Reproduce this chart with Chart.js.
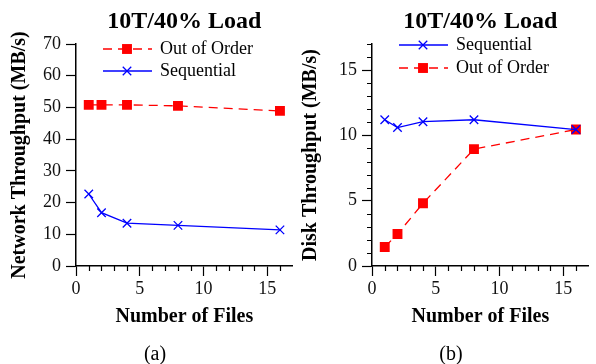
<!DOCTYPE html>
<html>
<head>
<meta charset="utf-8">
<script src="https://cdn.jsdelivr.net/npm/chart.js@4.4.1/dist/chart.umd.min.js"></script>
<style>
html, body { margin: 0; padding: 0; background: #fff; }
#wrap { position: relative; width: 596px; height: 364px; overflow: hidden; }
.box { position: absolute; top: 0; width: 300px; height: 364px; }
</style>
</head>
<body>
<div id="wrap">
  <div class="box" style="left:0"><canvas id="netChart" width="300" height="364"></canvas></div>
  <div class="box" style="left:296px"><canvas id="diskChart" width="300" height="364"></canvas></div>
</div>
<script>
// number of files on the x axis
const files = [1, 2, 4, 8, 16];

// (a) network throughput, MB/s
const netOutOfOrder = [50.8, 50.8, 50.8, 50.5, 48.9];
const netSequential = [22.7, 16.8, 13.5, 12.8, 11.4];

// (b) disk throughput, MB/s
const diskSequential = [11.2, 10.6, 11.05, 11.2, 10.45];
const diskOutOfOrder = [1.45, 2.45, 4.8, 8.95, 10.45];

const SERIF = '"Liberation Serif", "Times New Roman", serif';
const RED = '#ff0000';
const BLUE = '#0000ff';

function points(ys) {
    return files.map((f, i) => ({ x: f, y: ys[i] }));
}

function outOfOrderSet(ys) {
    return {
        label: 'Out of Order',
        data: points(ys),
        borderColor: RED,
        backgroundColor: RED,
        borderWidth: 1.3,
        borderDash: [9, 6],
        pointStyle: 'rect',
        pointRadius: 7,
        pointBorderWidth: 0,
        pointBackgroundColor: RED,
        tension: 0
    };
}

function sequentialSet(ys) {
    return {
        label: 'Sequential',
        data: points(ys),
        borderColor: BLUE,
        backgroundColor: BLUE,
        borderWidth: 1.3,
        pointStyle: 'crossRot',
        pointRadius: 6,
        pointBorderWidth: 1.3,
        tension: 0
    };
}

// titles, axis labels, legend and the short minor tics, gnuplot style
const decor = {
    id: 'decor',
    afterDraw(chart, args, opts) {
        const ctx = chart.ctx;
        const area = chart.chartArea;
        const xs = chart.scales.x, ys = chart.scales.y;
        const cx = (area.left + area.right) / 2;
        ctx.save();

        // minor tics
        ctx.strokeStyle = '#000';
        ctx.lineWidth = 1.2;
        ctx.beginPath();
        for (let v = 1; v < 17; v++) {
            if (v % 5 === 0) continue;
            const px = Math.round(xs.getPixelForValue(v)) + 0.5;
            ctx.moveTo(px, area.bottom);
            ctx.lineTo(px, area.bottom + 5);
        }
        if (opts.yMinor) {
            for (let v = 1; v <= 17; v++) {
                if (v % 5 === 0) continue;
                const py = Math.round(ys.getPixelForValue(v)) + 0.5;
                ctx.moveTo(area.left, py);
                ctx.lineTo(area.left - 5, py);
            }
        }
        ctx.stroke();

        ctx.fillStyle = '#000';
        ctx.textAlign = 'center';
        ctx.textBaseline = 'alphabetic';

        // chart title
        ctx.font = 'bold 24px ' + SERIF;
        ctx.fillText(opts.title, cx, 28);

        // x axis title
        ctx.font = 'bold 20px ' + SERIF;
        ctx.textBaseline = 'middle';
        ctx.fillText('Number of Files', cx, 317);

        // y axis title
        ctx.save();
        ctx.translate(opts.yLabelX, (area.top + area.bottom) / 2);
        ctx.rotate(-Math.PI / 2);
        ctx.fillText(opts.yLabel, 0, 0);
        ctx.restore();

        // caption
        ctx.font = '20px ' + SERIF;
        ctx.fillText(opts.caption, 155, 355);

        // legend: line sample with marker, then text
        chart.data.datasets.forEach((ds, i) => {
            const y = opts.legendY[i];
            ctx.strokeStyle = ds.borderColor;
            ctx.lineWidth = ds.borderWidth;
            ctx.setLineDash(ds.borderDash || []);
            ctx.beginPath();
            ctx.moveTo(103, y);
            ctx.lineTo(152, y);
            ctx.stroke();
            ctx.setLineDash([]);
            if (ds.pointStyle === 'rect') {
                const s = ds.pointRadius * Math.SQRT1_2;
                ctx.fillStyle = ds.pointBackgroundColor;
                ctx.fillRect(127 - s, y - s, 2 * s, 2 * s);
            } else {
                const r = ds.pointRadius * Math.SQRT1_2;
                ctx.lineWidth = ds.pointBorderWidth;
                ctx.beginPath();
                ctx.moveTo(127 - r, y - r); ctx.lineTo(127 + r, y + r);
                ctx.moveTo(127 - r, y + r); ctx.lineTo(127 + r, y - r);
                ctx.stroke();
            }
            ctx.fillStyle = '#000';
            ctx.font = '18px ' + SERIF;
            ctx.textAlign = 'left';
            ctx.fillText(ds.label, 160, y);
            ctx.textAlign = 'center';
        });

        ctx.restore();
    }
};

function makeChart(id, datasets, yOpts, decorOpts) {
    const tickFont = { family: SERIF, size: 18 };
    return new Chart(document.getElementById(id), {
        type: 'line',
        data: { datasets: datasets },
        options: {
            responsive: false,
            animation: false,
            devicePixelRatio: 1,
            layout: { padding: { top: 44, right: 1, bottom: 0, left: 0 } },
            plugins: {
                legend: { display: false },
                title: { display: false },
                tooltip: { enabled: false },
                decor: decorOpts
            },
            scales: {
                x: {
                    type: 'linear',
                    min: 0,
                    max: 17,
                    afterFit: s => { s.height = 98; },
                    border: { display: true, color: '#000', width: 1.5 },
                    grid: {
                        drawOnChartArea: false,
                        tickLength: 10,
                        tickWidth: 1.2,
                        tickColor: c => (c.tick && c.tick.value % 5 === 0) ? '#000' : 'rgba(0,0,0,0)'
                    },
                    ticks: {
                        stepSize: 1,
                        autoSkip: false,
                        maxRotation: 0,
                        padding: 2,
                        color: '#111',
                        font: tickFont,
                        callback: v => (v % 5 === 0 ? v : '')
                    }
                },
                y: {
                    type: 'linear',
                    min: 0,
                    max: yOpts.max,
                    afterFit: s => { s.width = 76; },
                    border: { display: true, color: '#000', width: 1.5 },
                    grid: {
                        drawOnChartArea: false,
                        tickLength: 10,
                        tickWidth: 1.2,
                        tickColor: c => (c.tick && c.tick.value % yOpts.major === 0) ? '#000' : 'rgba(0,0,0,0)'
                    },
                    ticks: {
                        stepSize: yOpts.step,
                        autoSkip: false,
                        padding: 5,
                        color: '#111',
                        font: tickFont,
                        callback: v => (v % yOpts.major === 0 ? v : '')
                    }
                }
            }
        },
        plugins: [decor]
    });
}

makeChart('netChart',
    [outOfOrderSet(netOutOfOrder), sequentialSet(netSequential)],
    { max: 70, step: 10, major: 10 },
    { title: '10T/40% Load', yLabel: 'Network Throughput (MB/s)', yLabelX: 20,
      caption: '(a)', legendY: [49, 71], yMinor: false });

makeChart('diskChart',
    [sequentialSet(diskSequential), outOfOrderSet(diskOutOfOrder)],
    { max: 17, step: 1, major: 5 },
    { title: '10T/40% Load', yLabel: 'Disk Throughput (MB/s)', yLabelX: 15,
      caption: '(b)', legendY: [45, 68], yMinor: true });
</script>
</body>
</html>
